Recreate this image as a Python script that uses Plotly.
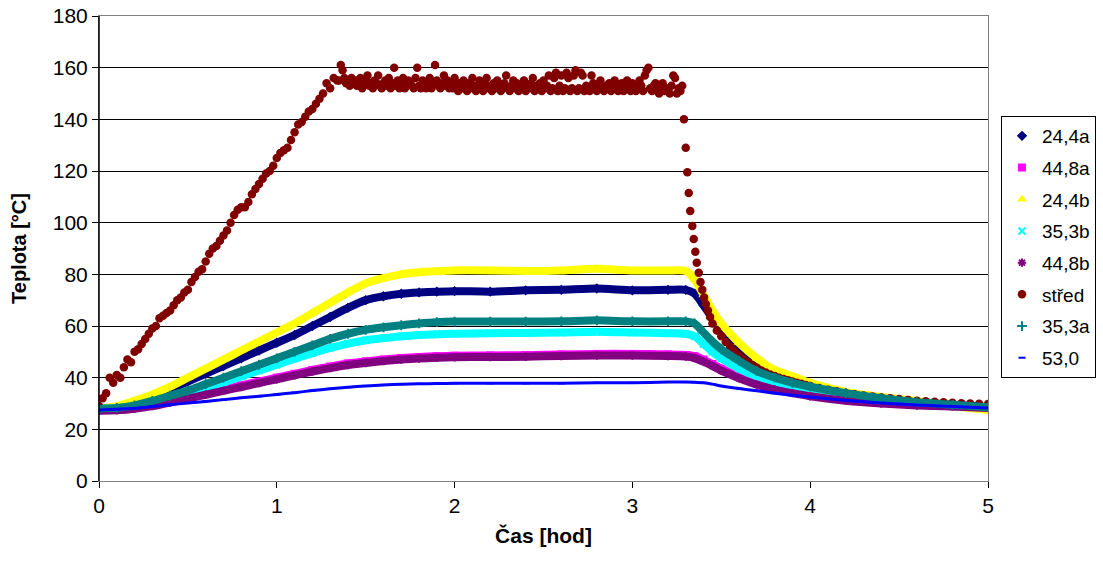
import plotly.graph_objects as go

# ---------------- data ----------------
# common time knots [h] for the smooth series
T_KNOTS = [0, 0.1, 0.2, 0.3, 0.4, 0.5, 0.6, 0.7, 0.8, 0.9, 1.0, 1.1, 1.2, 1.3, 1.4,
           1.5, 1.6, 1.7, 1.8, 1.9, 2.0, 2.2, 2.4, 2.6, 2.8, 3.0, 3.2, 3.3, 3.35,
           3.4, 3.45, 3.5, 3.6, 3.7, 3.8, 3.9, 4.0, 4.2, 4.4, 4.6, 4.8, 5.0]

S_24_4A = [28, 28.5, 30, 32.5, 35.5, 38.5, 41.5, 44.5, 47.5, 50.5, 53.5, 56.5, 60, 63.5, 67,
           70, 71.5, 72.5, 73, 73.3, 73.5, 73.3, 73.8, 74, 74.5, 73.8, 74, 74, 72.5,
           68, 63, 58.5, 51.5, 46, 42, 39.5, 37.5, 34, 32, 30.5, 29.5, 28.5]

S_44_8A = [27.5, 27.8, 28.5, 29.5, 31, 32.5, 34, 35.5, 37, 38.5, 40, 41.5, 43, 44.3, 45.5,
           46.3, 47, 47.6, 48, 48.3, 48.5, 48.6, 48.7, 49, 49.2, 49.2, 49, 48.8, 48.3,
           47, 45.3, 43.5, 40.5, 38, 36, 34.5, 33.3, 31.5, 30.3, 29.5, 29, 28.5]

S_24_4B = [28, 29, 31, 33.5, 36.5, 40, 43.5, 47, 50.5, 54, 57.5, 61, 65, 69, 73,
           76.5, 78.5, 80, 80.8, 81.2, 81.5, 81.5, 81.3, 81.5, 82.2, 81.5, 81.5, 81.3, 78,
           72, 66, 61, 53.5, 47.5, 43, 40.5, 38, 34.5, 32.5, 31, 29, 27.5]

S_35_3B = [28, 28.2, 29, 30.3, 32, 34, 36, 38.2, 40.5, 42.8, 45, 47.3, 49.5, 51.5, 53.2,
           54.5, 55.3, 56, 56.5, 56.8, 57, 57.2, 57.3, 57.5, 57.8, 57.5, 57.2, 57, 56,
           53, 50, 47.5, 43.5, 40.5, 38.5, 36.5, 35, 33, 31.5, 30, 29, 28.5]

S_44_8B = [27.2, 27.4, 28, 29, 30.4, 31.9, 33.4, 34.9, 36.4, 37.9, 39.4, 40.9, 42.4, 43.7, 44.9,
           45.7, 46.4, 47, 47.4, 47.7, 47.9, 48, 48.1, 48.4, 48.6, 48.6, 48.4, 48.2, 47.6,
           46.2, 44.5, 42.7, 39.8, 37.3, 35.4, 34, 32.8, 31.1, 30, 29.2, 28.8, 28.3]

S_35_3A = [28, 28.3, 29.3, 31, 33, 35, 37.5, 40, 42.5, 45, 47.5, 50, 52.5, 55, 57,
           58.5, 59.5, 60.3, 61, 61.5, 61.7, 61.7, 61.7, 61.8, 62.2, 61.8, 61.8, 61.8, 61,
           57.5, 54, 51, 46.5, 42.5, 40, 38, 36.5, 34, 32, 30.5, 29.5, 28.5]

S_53_0 = [27.5, 27.8, 28.2, 28.8, 29.5, 30.2, 30.8, 31.5, 32.2, 32.8, 33.5, 34.2, 35, 35.7, 36.3,
          36.8, 37.2, 37.5, 37.6, 37.7, 37.8, 37.8, 37.8, 37.8, 38, 38, 38.3, 38.3, 38.2,
          38, 37.5, 36.8, 35.8, 34.9, 34, 33.2, 32.5, 31.2, 30.2, 29.4, 28.8, 28.3]

# "střed" (centre) - heating phase, one reading every 0.02 h from t = 0
HEAT_STEP = 0.02
STRED_HEAT = [29, 32, 34, 40, 38, 41, 40, 44, 47, 46, 50, 51, 53, 55, 57, 59, 60, 63, 64, 65,
              66, 68, 70, 71, 73, 74, 77, 79, 81, 82, 85, 88, 90, 91, 93, 95, 97, 100, 103, 105,
              106, 106, 108, 111, 113, 115, 117, 119, 120, 122, 125, 127, 128, 129, 132, 135,
              138, 139, 141, 143, 144, 146, 148, 150, 154, 152, 156, 155]
# holding phase, one reading every 0.01 h from t = 1.35
HOLD_START = 1.35
HOLD_STEP = 0.01
STRED_HOLD = [155, 161, 159, 156, 154, 155, 153, 156, 154, 155, 153, 154, 156, 152, 154, 155, 157, 153, 154, 152,
              155, 154, 157, 153, 152, 154, 155, 153, 156, 152, 154, 160, 153, 155, 152, 154, 156, 152, 153, 155,
              154, 153, 152, 156, 160, 153, 152, 155, 154, 152, 153, 156, 152, 154, 161, 155, 153, 152, 154, 157,
              153, 155, 152, 154, 152, 156, 153, 151, 154, 152, 155, 153, 151, 154, 152, 156, 153, 151, 152, 155,
              153, 151, 154, 156, 152, 153, 151, 154, 152, 155, 153, 151, 152, 154, 157, 152, 151, 153, 155, 152,
              154, 151, 153, 152, 155, 151, 153, 152, 154, 156, 151, 153, 152, 154, 151, 155, 152, 153, 157, 151,
              152, 156, 158, 151, 153, 157, 151, 152, 158, 156, 151, 152, 157, 159, 151, 152, 158, 157, 151, 153,
              152, 151, 157, 154, 152, 151, 153, 155, 152, 151, 153, 152, 154, 151, 152, 155, 153, 151, 152, 154,
              151, 153, 155, 152, 151, 154, 153, 151, 152, 155, 153, 151, 157, 159, 160, 152, 151, 153, 154, 151,
              150, 152, 154, 151, 152, 151, 150, 153, 157, 156, 150, 152, 151, 153]
# cooling part of "střed"
STRED_COOL_T = [3.29, 3.30, 3.309, 3.317, 3.325, 3.337, 3.345, 3.354, 3.362, 3.373, 3.383,
                3.393, 3.403, 3.413, 3.425, 3.437, 3.45, 3.475, 3.5, 3.525, 3.55, 3.575, 3.6,
                3.625, 3.65, 3.675, 3.7, 3.725, 3.75, 3.775, 3.8, 3.825, 3.85, 3.875, 3.9,
                3.925, 3.95, 3.975, 4.0, 4.05, 4.1, 4.15, 4.2, 4.25, 4.3, 4.35, 4.4, 4.45,
                4.5, 4.55, 4.6, 4.65, 4.7, 4.75, 4.8, 4.85, 4.9, 4.95, 5.0]
STRED_COOL = [140, 129, 119.5, 111.5, 104.5, 98.7, 93.7, 88.7, 84.5, 80.6, 77,
              74, 71, 68.5, 66, 63.5, 61, 58.3, 56, 53.8, 52, 50.2, 48.6,
              47.2, 46, 44.8, 43.8, 42.8, 42, 41.2, 40.6, 40, 39.5, 39, 38.5,
              38, 37.6, 37.2, 36.8, 36, 35.3, 34.7, 34.1, 33.6, 33.1, 32.7, 32.3, 32,
              31.7, 31.4, 31.1, 30.9, 30.7, 30.5, 30.3, 30.1, 30, 29.9, 29.8]

X_TICKS = [0, 1, 2, 3, 4, 5]
Y_TICKS = [0, 20, 40, 60, 80, 100, 120, 140, 160, 180]

stred_t = ([round(i * HEAT_STEP, 3) for i in range(len(STRED_HEAT))]
           + [round(HOLD_START + i * HOLD_STEP, 3) for i in range(len(STRED_HOLD))]
           + STRED_COOL_T)
stred_v = STRED_HEAT + STRED_HOLD + STRED_COOL

# ---------------- figure ----------------
FONT = "Arial, Liberation Sans, sans-serif"
fig = go.Figure()

series = [
    ("24,4a", S_24_4A, "#000080", "diamond", 8),
    ("44,8a", S_44_8A, "#FF00FF", "square", 8),
    ("24,4b", S_24_4B, "#FFFF00", "triangle-up", 9),
    ("35,3b", S_35_3B, "#00FFFF", "x-thin", 7),
    ("44,8b", S_44_8B, "#800080", "asterisk", 7),
    ("střed", None, "#800000", "circle", 9),
    ("35,3a", S_35_3A, "#008080", "cross-thin", 7),
    ("53,0", S_53_0, "#0000FF", "line-ew", 5),
]

for name, vals, col, sym, msz in series:
    if vals is None:
        fig.add_trace(go.Scatter(
            x=stred_t, y=stred_v, mode="markers", name=name, legendgroup=name,
            marker=dict(symbol="circle", size=8.5, color=col, line=dict(width=0)),
            hoverinfo="skip"))
        continue
    width = 3 if name == "53,0" else 8
    fig.add_trace(go.Scatter(
        x=T_KNOTS, y=vals, mode="lines", name=name, legendgroup=name, showlegend=False,
        line=dict(color=col, width=width, shape="spline", smoothing=0.6),
        hoverinfo="skip"))
    thin = sym in ("x-thin", "asterisk", "cross-thin", "line-ew")
    fig.add_trace(go.Scatter(
        x=T_KNOTS, y=vals, mode="markers", name=name, legendgroup=name,
        marker=dict(symbol=sym, size=msz, color=col,
                    line=dict(color=col, width=2 if thin else 0)),
        hoverinfo="skip"))

fig.update_layout(
    width=1103, height=562,
    margin=dict(l=99, r=4, t=16, b=81, autoexpand=False),
    paper_bgcolor="white", plot_bgcolor="white",
    font=dict(family=FONT, color="black", size=21),
    showlegend=True,
    legend=dict(x=0.902, y=0.785, xanchor="left", yanchor="top",
                bordercolor="black", borderwidth=1, bgcolor="white",
                font=dict(family=FONT, size=19, color="black"),
                tracegroupgap=4, traceorder="grouped", itemwidth=30),
    xaxis=dict(domain=[0, 0.889], range=[0, 5], tickvals=X_TICKS, ticks="outside", ticklen=6,
               tickcolor="black", showgrid=False, zeroline=False, automargin=False,
               showline=True, linecolor="#808080", linewidth=1, mirror=True,
               tickfont=dict(size=21, family=FONT),
               title=dict(text="<b>Čas [hod]</b>", font=dict(size=21, family=FONT), standoff=12)),
    yaxis=dict(range=[0, 180], tickvals=Y_TICKS, ticks="outside", ticklen=6,
               tickcolor="black", showgrid=True, gridcolor="black", gridwidth=1, automargin=False,
               zeroline=False, showline=True, linecolor="#808080", linewidth=1, mirror=True,
               tickfont=dict(size=21, family=FONT),
               title=dict(text="<b>Teplota [°C]</b>", font=dict(size=20, family=FONT), standoff=20)),
)
# black left axis line on top of the grey frame
fig.add_shape(type="line", xref="x domain", yref="paper", x0=0, x1=0, y0=0, y1=1,
              line=dict(color="black", width=1.5))

fig.write_html("out.html")
